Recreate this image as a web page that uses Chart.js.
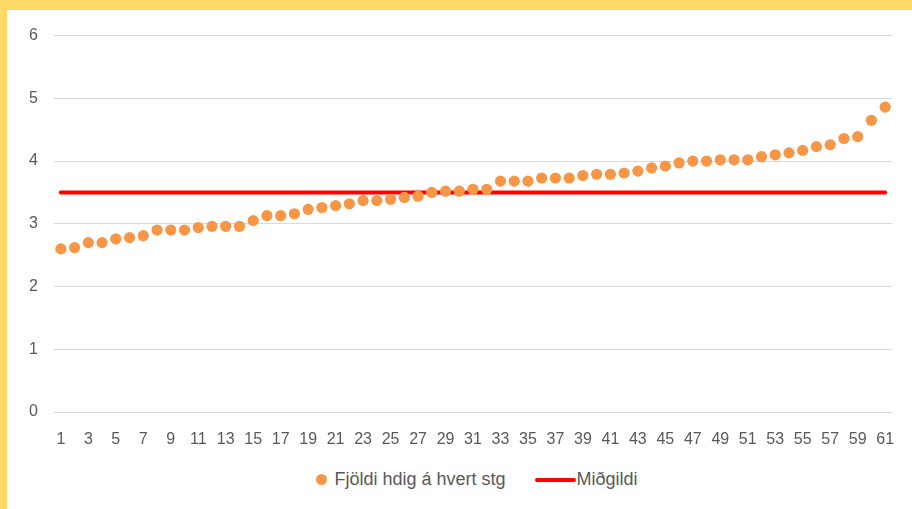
<!DOCTYPE html>
<html>
<head>
<meta charset="utf-8">
<script src="https://cdn.jsdelivr.net/npm/chart.js@4/dist/chart.umd.min.js"></script>
<style>
  html, body { margin: 0; padding: 0; }
  body { width: 912px; height: 509px; background: #FFD966; position: relative; overflow: hidden; }
  .panel { position: absolute; left: 7px; top: 10px; width: 905px; height: 499px; background: #fff; }
  .panel canvas { position: absolute; left: 0; top: 0; }
  .legend { position: absolute; left: 47px; width: 846px; top: 459px; display: flex; justify-content: center; align-items: center;
            font-family: "Liberation Sans", sans-serif; font-size: 18px; color: #595959; }
  .legend .item { display: flex; align-items: center; }
  .legend .item + .item { margin-left: 29px; }
  .legend .dot { width: 11px; height: 11px; border-radius: 50%; margin-right: 7px; }
  .legend .bar { width: 41px; height: 4px; border-radius: 2px; margin-right: 1px; }
</style>
</head>
<body>
<div class="panel">
  <canvas id="c" width="905" height="455"></canvas>
  <div class="legend" id="legend"></div>
</div>
<script>
// gögn lesin af myndinni
var categories = [];
for (var n = 1; n <= 61; n++) categories.push(String(n));

var seriesName = 'Fjöldi hdig á hvert stg';
var seriesValues = [
  2.60, 2.62, 2.70, 2.70, 2.76, 2.78, 2.81, 2.90, 2.90, 2.90,
  2.94, 2.96, 2.96, 2.96, 3.05, 3.13, 3.13, 3.16, 3.23, 3.26,
  3.29, 3.32, 3.37, 3.37, 3.39, 3.42, 3.44, 3.50, 3.52, 3.52,
  3.55, 3.55, 3.68, 3.68, 3.68, 3.73, 3.73, 3.73, 3.77, 3.79,
  3.79, 3.81, 3.84, 3.89, 3.92, 3.97, 4.00, 4.00, 4.02, 4.02,
  4.02, 4.07, 4.10, 4.13, 4.17, 4.23, 4.26, 4.36, 4.39, 4.65,
  4.86
];

var medianName = 'Miðgildi';
var medianValue = 3.5;

var yTicks = [0, 1, 2, 3, 4, 5, 6];

var FONT = '"Liberation Sans", sans-serif';
var TEXT = '#595959';
var ORANGE = '#F79646';
var RED = '#FF0000';

var chart = new Chart(document.getElementById('c'), {
  type: 'line',
  data: {
    labels: categories,
    datasets: [
      {
        label: seriesName,
        data: seriesValues,
        showLine: false,
        pointRadius: 5.6,
        pointHoverRadius: 5.6,
        pointBackgroundColor: ORANGE,
        pointBorderColor: ORANGE,
        pointBorderWidth: 0,
        borderColor: ORANGE,
        backgroundColor: ORANGE
      },
      {
        label: medianName,
        data: [
          { x: categories[0], y: medianValue },
          { x: categories[categories.length - 1], y: medianValue }
        ],
        borderColor: RED,
        backgroundColor: RED,
        borderWidth: 4,
        borderCapStyle: 'round',
        pointRadius: 0,
        tension: 0
      }
    ]
  },
  options: {
    responsive: false,
    animation: false,
    layout: { padding: { left: 0, right: 20, top: 24, bottom: 0 } },
    plugins: {
      legend: { display: false },
      tooltip: { enabled: false }
    },
    scales: {
      x: {
        offset: true,
        grid: { display: false },
        border: { display: false },
        ticks: {
          autoSkip: false,
          maxRotation: 0,
          padding: 10,
          color: TEXT,
          font: { family: FONT, size: 16 },
          callback: function(v, i) { return i % 2 === 0 ? categories[i] : ''; }
        },
        afterFit: function(s) { s.height = 53; }
      },
      y: {
        min: yTicks[0],
        max: yTicks[yTicks.length - 1],
        grid: { color: '#D9D9D9', lineWidth: 1, drawTicks: false },
        border: { display: false },
        ticks: {
          stepSize: 1,
          padding: 16,
          color: TEXT,
          font: { family: FONT, size: 16 }
        },
        afterFit: function(s) { s.width = 47; }
      }
    }
  }
});

// legend í html
var lg = document.getElementById('legend');
chart.data.datasets.forEach(function(ds, i) {
  var it = document.createElement('div');
  it.className = 'item';
  var mark = document.createElement('span');
  mark.className = i === 0 ? 'dot' : 'bar';
  mark.style.background = ds.borderColor;
  var txt = document.createElement('span');
  txt.textContent = ds.label;
  it.appendChild(mark);
  it.appendChild(txt);
  lg.appendChild(it);
});
</script>
</body>
</html>
